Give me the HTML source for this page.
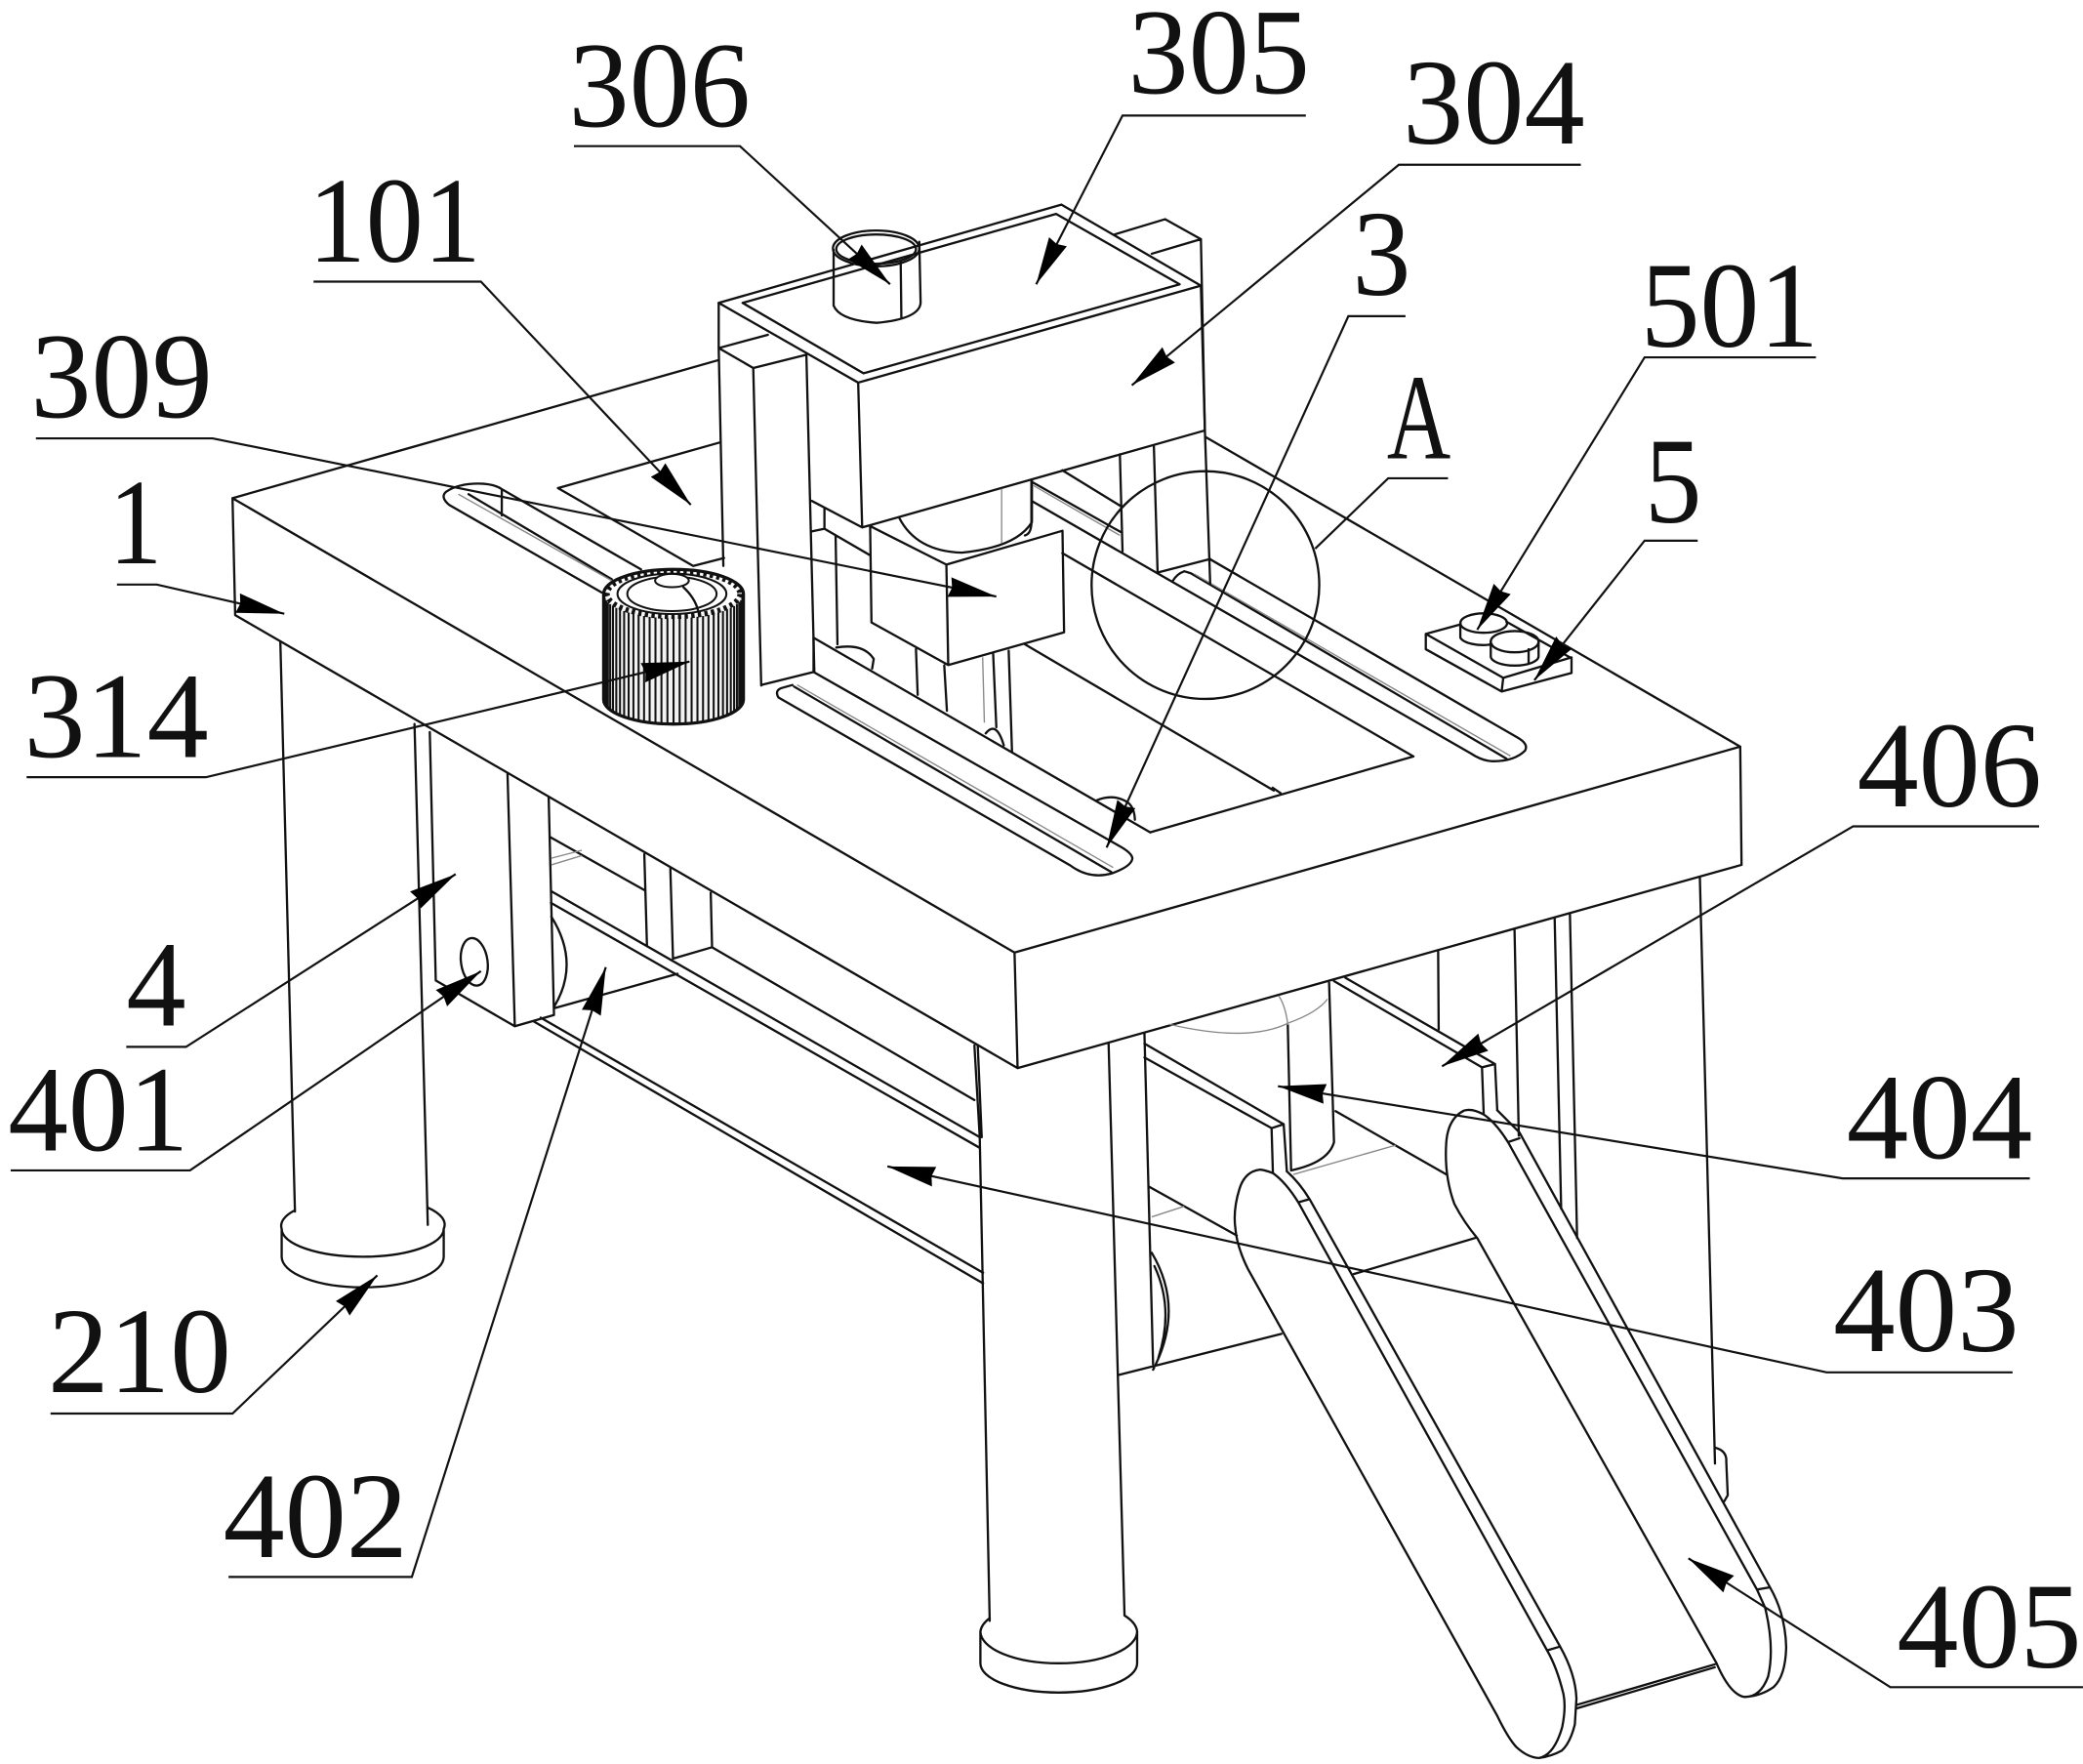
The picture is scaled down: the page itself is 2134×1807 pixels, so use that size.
<!DOCTYPE html>
<html><head><meta charset="utf-8"><style>
html,body{margin:0;padding:0;background:#fff}
svg{display:block}
.l{fill:none;stroke:#111;stroke-width:1.7;stroke-linecap:round;stroke-linejoin:round}
.g{fill:none;stroke:#888;stroke-width:1}
.a{fill:none;stroke:#111;stroke-width:1.6}
text{font-family:"Liberation Serif",serif;font-size:92px;fill:#111}
</style></head><body>
<svg xmlns="http://www.w3.org/2000/svg" width="2134" height="1807" viewBox="0 0 1568 1327.8">
<defs><marker id="m" markerUnits="userSpaceOnUse" markerWidth="38" markerHeight="20" refX="36" refY="10" orient="auto"><path d="M0 2.5L36 10L0 17.5L2 10z" fill="#000"/></marker></defs>
<rect width="1568" height="1328" fill="#fff"/>
<!-- table -->
<path class="l" d="M175 375L763.7 717L1310 562M175 375L541 271M907.6 329L1310 562M175 375L177 463L766 804L1311 651L1310 562M763.7 717L766 804"/>
<!-- back left leg and foot -->
<path class="l" d="M211 483L222 912M312 545L322 922M212 925V946M334 925V946M212 925A61 21 0 0 0 334 925M212 946A61 23 0 0 0 334 946M334 925A61 21 0 0 0 322 909M212 925A61 21 0 0 1 222 911"/>
<!-- front leg and foot -->
<path class="l" d="M733.5 787L737.5 856M736 787L739 856M737.5 856L745 1220M834.5 785L846.5 1216M738 1228V1252M856 1228V1252M738 1228A59 24 0 0 0 856 1228M738 1252A59 22 0 0 0 856 1252M856 1228A59 24 0 0 0 846.5 1216M738 1228A59 24 0 0 1 745 1218"/>
<!-- frame 4 -->
<path class="l" d="M323.5 551L328 738L387.5 772.5L382 582M387.5 772.5L417 764L413 600M414 630L485 670M485 643L487 712M504.6 654L506.6 721.6M535 672L536 713M506.6 721.6L536 713L733.5 828M414.7 670.7L737.5 856M414.7 679.6L737.5 864M407 766L740 958M402 769L740 966M415 690Q437 725 417 758M417 759L510 733"/>
<ellipse class="l" cx="357" cy="724" rx="10" ry="18" transform="rotate(-8 357 724)"/>
<path class="g" d="M415 646L438 640M415 651L438 644"/>
<!-- under table right -->
<path class="l" d="M861.5 778L868 1027M861.5 785.5L966.3 846.2M861.5 796L957.2 849.2L966.3 846.2M957.2 849.2L958.2 883M966.3 846.2L968.7 881.7M1000.5 739.7L1004.2 859.7Q1000 875 971.9 881M969.4 771.5L971.9 881M1012.8 736L1125.4 800.9M1004.2 738.5L1115.6 803.4L1125.4 800.9M1115.6 803.4L1116.9 838.9M1125.4 800.9L1127.1 835.7M1005.4 836.4L1088.7 884M864.5 893L931 930M867 943Q892 985 868 1031M869 953Q884 985 872 1022M842 1035L964.6 1004"/>
<path class="g" d="M880 771Q940 785 970 770Q992 762 999.3 752M962.6 749.5Q968 758 969.4 771.5M973.6 884L1050.7 862M867 916L891.5 908"/>
<path class="l" d="M1082.6 716L1083 775M1140.1 700L1143.3 854.8M1170.3 691L1175.2 909.9M1181.8 688L1187.2 931.9M1279.6 660L1291 1101.6M1291 1089.6Q1300 1092 1299.5 1100L1300.6 1125.5L1298 1130"/>
<!-- belts -->
<path class="l" d="M958.2 883Q950 880 948 880.5Q937 882 933 895Q928 911 930 925Q931 938 939.3 955L1126.7 1290.8Q1135 1308 1141.4 1315Q1150 1323 1158.5 1323.3Q1170 1321 1176 1300Q1179 1285 1176.9 1275Q1172 1255 1164.6 1242.3L977.3 905Q968 890 958.2 883M968.7 881.7Q978 890 985.8 902.6L1174.4 1239.4Q1186 1260 1186.7 1278.5L1185.5 1298Q1182 1312 1175.7 1317.7Q1168 1322 1158.5 1323.3M977.3 905L985.8 902.6M1164.6 1242.3L1174.4 1239.4"/>
<path class="l" d="M1116.9 838.9Q1108 834 1102 836Q1090 842 1088.7 860Q1087 885 1094.8 906.2Q1102 920 1112 931.9L1292 1251.6Q1302 1275 1312.8 1277.3Q1325 1278 1331 1262Q1336 1240 1328.7 1210L1322.6 1196.5L1135.2 859.7Q1126 845 1116.9 838.9M1127.1 835.7L1143.8 852.4L1332.4 1194.8Q1344 1215 1344.6 1240Q1344 1262 1335 1270Q1325 1277 1312.8 1277.3M1135.2 859.7L1143.8 856.8M1322.6 1196.5L1332.4 1194.8"/>
<path class="l" d="M1111 931.7L1019 959M1186.7 1283.4L1290.8 1252.8M1186.7 1286L1290.8 1255"/>
<!-- top rails -->
<path class="l" d="M799.7 354L843.7 381M776.4 362.5L843.7 400.5M776.4 362.5V394Q776 402 771.5 403M776.4 377L1107 567Q1116 573 1124 573Q1140 573 1148 565Q1151 560 1142 555L911 421M883 437Q886 432 891.5 430L896.4 431.5L1134 571M799.7 416.4L1064 569.4L865.8 626.5M771.5 485L958.8 595M958 593L964 597"/>
<path class="g" d="M778 365.5L843 403M899 432L1137 569"/>
<path class="l" d="M612.4 480L865.8 626.5M612.4 480V505.8M573.2 515.6L612.4 505.8L842.6 636.8Q852 642 852.4 646Q852 652 836.5 657.6Q820 662 805.8 651.5L586 525Q583 520 588 518L596.5 515.6M597.7 516.8L836.5 656.4M825.4 602.5Q838 597 849 604Q854 608 854.3 617M629.5 487.4Q650 484 657.7 496L656.5 503.3"/>
<path class="g" d="M600 515.5L838 653"/>
<circle class="l" cx="907.4" cy="440.4" r="85.7"/>
<!-- columns -->
<path class="l" d="M541 228L541 262L544.5 426M567 277L573 516M541 262L567 277L607 267L613 506M541 262L578 252M843 342L845 415M868.6 336L871.4 431L911 420.8M904 180L907 324L911 439.6M839 176.5L877 165L904 180M867 191L904 180"/>
<!-- motor box -->
<path class="l" d="M541 228L799 154L904 215L646 288L541 228M559 228L795 161L888 214L650 281L559 228M646 288L649 397L907 324L904 215M611 377L649 397"/>
<path class="l" d="M620.6 383V398M611 400L620.6 398L655 418M629 403L630.4 485M655 396L656 468.5L713.8 500.6L801 476L799.8 399.5L712.4 425L655 396M712.4 425L713.8 500.6M677 390Q690 415 724 416Q765 412 776.8 393V362M689.5 488.6L690.8 523M710.8 500.9L712.8 535M747.6 492L750 547.4M759.3 489.8L761.8 565.8M742 552Q750 542 755.6 561"/>
<path class="g" d="M754 368V409M739.7 494.7L741 544"/>
<!-- top cylinder -->
<path class="l" d="M627.5 188V230Q632 241 660 243Q692 240 693 228L692 182M678 197L678.5 239"/>
<ellipse class="l" cx="659.5" cy="187" rx="32.5" ry="13.5" stroke-width="2"/>
<ellipse class="l" cx="659.5" cy="187.5" rx="30" ry="11"/>
<!-- far left slot and plate -->
<path class="l" d="M338 380Q331 374 336 370Q345 364 360 364Q372 364 378.4 368.6L482.5 428.6M338 380L453 446M352.7 372L460.5 436M377.7 368.6V388M420 367.4L542 333M420 367.4L521.8 426L545 420"/>
<path class="g" d="M345 372L463 438.5"/>
<!-- gear -->
<path d="M454.4 447V526.6A52.6 18.4 0 0 0 559.6 526.6V447A52.6 18.4 0 0 0 454.4 447z" fill="#f2f2f2" stroke="#111" stroke-width="2.4"/>
<path fill="none" stroke="#111" stroke-width="1.5" d="M454.6 448.6v79.6M455.2 450.2v79.6M456.2 451.8v79.6M457.6 453.3v79.6M459.3 454.8v79.6M461.4 456.2v79.6M463.9 457.6v79.6M466.7 458.8v79.6M469.8 460v79.6M473.2 461.1v79.6M476.8 462.1v79.6M480.7 462.9v79.6M484.8 463.7v79.6M489 464.3v79.6M493.4 464.8v79.6M497.9 465.1v79.6M502.4 465.3v79.6M507 465.4v79.6M511.6 465.3v79.6M516.1 465.1v79.6M520.6 464.8v79.6M525 464.3v79.6M529.2 463.7v79.6M533.3 462.9v79.6M537.2 462.1v79.6M540.8 461v79.6M544.2 460v79.6M547.3 458.8v79.6M550.1 457.6v79.6M552.6 456.2v79.6M554.7 454.8v79.6M556.4 453.3v79.6M557.8 451.8v79.6M558.8 450.2v79.6M559.4 448.6v79.6"/>
<ellipse cx="507" cy="447" rx="50" ry="17" fill="#fff" stroke="#111" stroke-width="4" stroke-dasharray="2.5 2.5"/>
<ellipse cx="505.8" cy="447" rx="41" ry="15.2" fill="#fff" stroke="#111" stroke-width="1.5"/>
<ellipse cx="505.8" cy="447" rx="33.6" ry="13" fill="#fff" stroke="#111" stroke-width="1.5"/>
<ellipse cx="505.8" cy="437" rx="12.7" ry="5" fill="#fff" stroke="#111" stroke-width="1.5"/>
<path class="l" d="M514.4 442Q523 450 525.4 459.3"/>
<!-- box 5 -->
<path class="l" d="M1073.3 477.2L1098.5 470.3M1073.3 477.2L1131.6 510.2L1183 494.8M1073.3 477.2V488.7L1130.4 520.5L1183 506.6V494.8M1131.6 510.2L1130.4 520.5M1134 468L1181.8 494.8"/>
<path class="l" d="M1099.3 469V480A17.6 7.3 0 0 0 1123 485"/>
<ellipse class="l" cx="1116.9" cy="469" rx="17.6" ry="7.3"/>
<ellipse class="l" cx="1140.2" cy="483" rx="18" ry="8" fill="#fff"/>
<path class="l" d="M1122.2 483V494A18 7 0 0 0 1158.2 494V483M1150.7 488.7V499"/>
<!-- leaders -->
<g class="a">
<path marker-end="url(#m)" d="M432 110H557L670 214"/>
<path marker-end="url(#m)" d="M983 87H845L780 214"/>
<path marker-end="url(#m)" d="M1190 124H1053L852 290"/>
<path marker-end="url(#m)" d="M236 212H362L520 380"/>
<path marker-end="url(#m)" d="M1058 238H1015L833 638"/>
<path marker-end="url(#m)" d="M1367 269H1238L1112 474"/>
<path d="M1090 360H1045L990 413"/>
<path marker-end="url(#m)" d="M1278 407H1238L1155 512"/>
<path marker-end="url(#m)" d="M27 330H160L750 449"/>
<path marker-end="url(#m)" d="M88 440H118L214 462"/>
<path marker-end="url(#m)" d="M20 585H155L519 498"/>
<path marker-end="url(#m)" d="M1535 622H1395L1085.5 802.6"/>
<path marker-end="url(#m)" d="M95 788H140L343 658"/>
<path marker-end="url(#m)" d="M8 881H143L362 731"/>
<path marker-end="url(#m)" d="M172 1187H310L456 728"/>
<path marker-end="url(#m)" d="M1528 887H1387L962 817.6"/>
<path marker-end="url(#m)" d="M1515 1033H1375L668 878"/>
<path marker-end="url(#m)" d="M38 1064H175L284 960"/>
<path marker-end="url(#m)" d="M1568 1270H1423L1271 1173"/>
</g>
<!-- labels -->
<text x="428" y="95" textLength="137" lengthAdjust="spacingAndGlyphs">306</text>
<text x="849" y="70" textLength="137" lengthAdjust="spacingAndGlyphs">305</text>
<text x="1056" y="108" textLength="137" lengthAdjust="spacingAndGlyphs">304</text>
<text x="232" y="197" textLength="130" lengthAdjust="spacingAndGlyphs">101</text>
<text x="1018" y="222" textLength="44" lengthAdjust="spacingAndGlyphs">3</text>
<text x="1235" y="261" textLength="134" lengthAdjust="spacingAndGlyphs">501</text>
<text x="1044" y="345" textLength="48" lengthAdjust="spacingAndGlyphs">A</text>
<text x="1238" y="393" textLength="43" lengthAdjust="spacingAndGlyphs">5</text>
<text x="23" y="314" textLength="137" lengthAdjust="spacingAndGlyphs">309</text>
<text x="82" y="424" textLength="40" lengthAdjust="spacingAndGlyphs">1</text>
<text x="18" y="570" textLength="139" lengthAdjust="spacingAndGlyphs">314</text>
<text x="1398" y="607" textLength="139" lengthAdjust="spacingAndGlyphs">406</text>
<text x="95" y="772" textLength="45" lengthAdjust="spacingAndGlyphs">4</text>
<text x="6" y="866" textLength="136" lengthAdjust="spacingAndGlyphs">401</text>
<text x="168" y="1172" textLength="139" lengthAdjust="spacingAndGlyphs">402</text>
<text x="1390" y="872" textLength="140" lengthAdjust="spacingAndGlyphs">404</text>
<text x="1380" y="1017" textLength="140" lengthAdjust="spacingAndGlyphs">403</text>
<text x="36" y="1048" textLength="138" lengthAdjust="spacingAndGlyphs">210</text>
<text x="1428" y="1255" textLength="139" lengthAdjust="spacingAndGlyphs">405</text>
</svg>
</body></html>
